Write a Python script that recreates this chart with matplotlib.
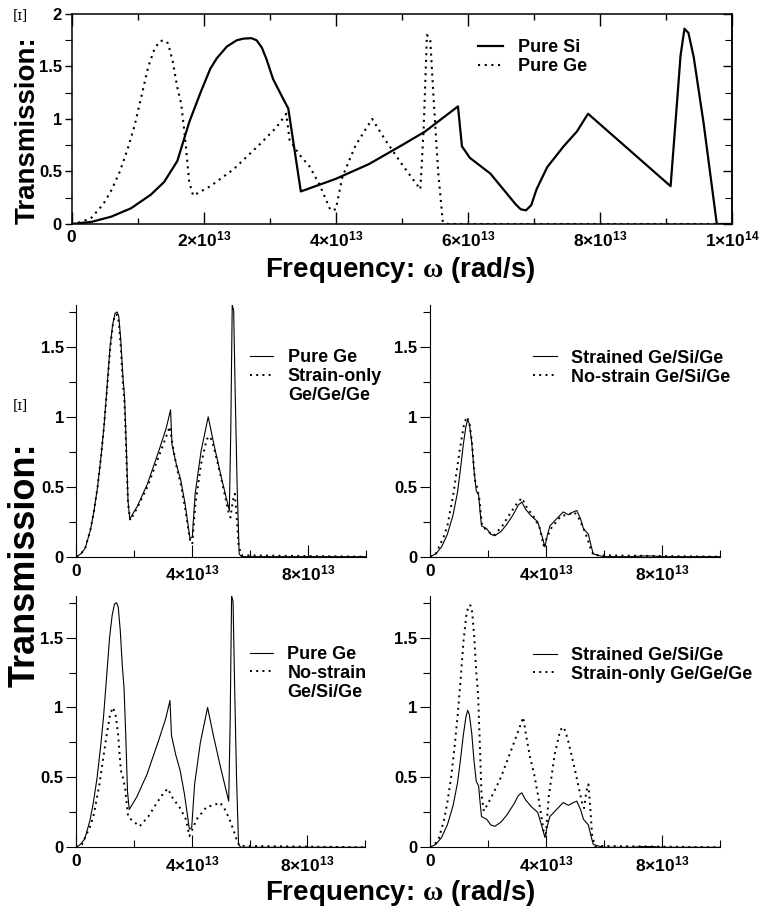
import numpy as np
import matplotlib
matplotlib.use('Agg')
import matplotlib.pyplot as plt
from matplotlib.ticker import MultipleLocator

plt.rcParams['font.family'] = ['Liberation Sans', 'DejaVu Sans']
plt.rcParams['font.weight'] = 'bold'
plt.rcParams['mathtext.fontset'] = 'custom'
plt.rcParams['mathtext.bf'] = 'Liberation Sans:bold'
plt.rcParams['mathtext.rm'] = 'Liberation Serif'

# frequencies in units of 1e13 rad/s
f_si = [0, 0.3, 0.6, 0.9, 1.2, 1.4, 1.6, 1.78, 1.95, 2.1, 2.2, 2.35, 2.5, 2.6,
        2.72, 2.8, 2.88, 2.95, 3.05, 3.18, 3.28, 3.47, 4.0, 4.5, 5.0, 5.35, 5.6,
        5.85, 5.91, 6.03, 6.34, 6.59, 6.72, 6.8, 6.88, 6.96, 7.04, 7.2, 7.45, 7.65,
        7.82, 9.07, 9.17, 9.22, 9.28, 9.34, 9.42, 9.57, 9.77, 10.0]
t_si = [0, 0.02, 0.07, 0.15, 0.28, 0.4, 0.6, 0.97, 1.25, 1.48, 1.58, 1.69, 1.75,
        1.765, 1.77, 1.75, 1.68, 1.57, 1.38, 1.22, 1.1, 0.31, 0.43, 0.57, 0.75,
        0.88, 1.0, 1.12, 0.74, 0.63, 0.48, 0.29, 0.19, 0.14, 0.13, 0.18, 0.33,
        0.54, 0.74, 0.88, 1.05, 0.36, 1.18, 1.6, 1.86, 1.82, 1.59, 0.96, 0.0, 0.0]

f_ge = [0, 0.15, 0.3, 0.48, 0.6, 0.73, 0.85, 0.95, 1.05, 1.16, 1.25, 1.33, 1.4,
        1.46, 1.53, 1.6, 1.66, 1.72, 1.78, 1.84, 2.1, 2.45, 2.85, 3.1, 3.25, 3.3,
        3.45, 3.6, 3.75, 3.92, 4.0, 4.1, 4.3, 4.55, 4.75, 5.0, 5.28, 5.33, 5.38,
        5.43, 5.48, 5.55, 5.62, 5.7, 10.0]
t_ge = [0, 0.02, 0.06, 0.19, 0.32, 0.5, 0.72, 0.93, 1.2, 1.5, 1.66, 1.74, 1.75,
        1.72, 1.55, 1.3, 1.14, 0.8, 0.4, 0.27, 0.36, 0.52, 0.76, 0.92, 1.05, 0.8,
        0.66, 0.55, 0.38, 0.13, 0.14, 0.45, 0.75, 1.0, 0.8, 0.57, 0.33, 0.9, 1.8,
        1.76, 1.2, 0.5, 0.02, 0.0, 0.0]

f_so = [0, 0.15, 0.3, 0.48, 0.6, 0.73, 0.85, 0.95, 1.05, 1.16, 1.25, 1.33, 1.4,
        1.46, 1.53, 1.6, 1.66, 1.72, 1.78, 1.86, 2.1, 2.45, 2.85, 3.1, 3.22, 3.32,
        3.45, 3.6, 3.75, 3.92, 4.0, 4.1, 4.3, 4.5, 4.62, 4.75, 5.0, 5.25, 5.32,
        5.4, 5.47, 5.53, 5.6, 5.7, 10.0]
t_so = [0, 0.02, 0.06, 0.19, 0.32, 0.5, 0.72, 0.93, 1.18, 1.48, 1.65, 1.73, 1.73,
        1.68, 1.5, 1.25, 1.1, 0.75, 0.38, 0.26, 0.35, 0.5, 0.72, 0.86, 0.93, 0.8,
        0.65, 0.52, 0.35, 0.12, 0.09, 0.36, 0.66, 0.84, 0.86, 0.78, 0.56, 0.32,
        0.28, 0.4, 0.45, 0.3, 0.08, 0.01, 0.0]

f_gsg = [0, 0.2, 0.4, 0.6, 0.8, 0.95, 1.05, 1.15, 1.24, 1.3, 1.36, 1.44, 1.52,
         1.6, 1.68, 1.74, 1.78, 1.96, 2.1, 2.24, 2.45, 2.65, 2.9, 3.05, 3.17, 3.3,
         3.5, 3.72, 3.85, 3.97, 4.05, 4.14, 4.37, 4.6, 4.78, 4.95, 5.07, 5.2, 5.3,
         5.47, 5.56, 5.64, 5.8, 6.0, 7.0, 7.3, 7.7, 8.0, 10.0]
t_gsg = [0, 0.02, 0.07, 0.16, 0.3, 0.46, 0.62, 0.8, 0.93, 0.98, 0.95, 0.82, 0.62,
         0.47, 0.44, 0.3, 0.22, 0.2, 0.16, 0.15, 0.18, 0.23, 0.31, 0.37, 0.39,
         0.34, 0.29, 0.25, 0.16, 0.07, 0.15, 0.22, 0.27, 0.32, 0.3, 0.32, 0.33,
         0.27, 0.2, 0.16, 0.08, 0.02, 0.01, 0.0, 0.0, 0.005, 0.005, 0.0, 0.0]

f_ns = [0, 0.2, 0.47, 0.6, 0.81, 1.04, 1.18, 1.27, 1.36, 1.45, 1.55, 1.62, 1.7,
        1.8, 1.95, 2.2, 2.5, 2.77, 3.0, 3.17, 3.35, 3.6, 3.8, 3.92, 4.05, 4.17,
        4.52, 4.75, 4.98, 5.15, 5.31, 5.45, 5.56, 5.65, 5.8, 10.0]
t_ns = [0, 0.02, 0.14, 0.22, 0.45, 0.78, 0.95, 1.0, 0.96, 0.82, 0.55, 0.5, 0.42,
        0.22, 0.19, 0.15, 0.22, 0.31, 0.38, 0.42, 0.35, 0.28, 0.2, 0.08, 0.14,
        0.2, 0.29, 0.3, 0.32, 0.27, 0.2, 0.12, 0.05, 0.01, 0.01, 0.0]

top_xticks = [0, 2, 4, 6, 8, 10]
top_xlabels = ['0', r'$\mathbf{2{\times}10^{13}}$', r'$\mathbf{4{\times}10^{13}}$',
               r'$\mathbf{6{\times}10^{13}}$', r'$\mathbf{8{\times}10^{13}}$',
               r'$\mathbf{1{\times}10^{14}}$']
top_yticks = [0, 0.5, 1, 1.5, 2]
top_ylabels = ['0', '0.5', '1', '1.5', '2']
sub_xticks = [0, 4, 8]
sub_xlabels = ['0', r'$\mathbf{4{\times}10^{13}}$', r'$\mathbf{8{\times}10^{13}}$']
sub_yticks = [0, 0.5, 1, 1.5]
sub_ylabels = ['0', '0.5', '1', '1.5']

SCALE = 1e13
DOT = (0, (1, 2.2))

fig = plt.figure(figsize=(7.61, 9.15), dpi=100)

# ---- top panel
ax = fig.add_axes([0.0942, 0.7552, 0.8677, 0.2295])
ax.plot(np.array(f_si) * SCALE, t_si, color='k', lw=1.6, label='Pure Si')
ax.plot(np.array(f_ge) * SCALE, t_ge, color='k', lw=1.5, ls=DOT, label='Pure Ge')
ax.set_xlim(0, 1e14)
ax.set_ylim(0, 2)
ax.set_xticks(np.array(top_xticks) * SCALE)
ax.set_xticklabels(top_xlabels)
ax.xaxis.set_minor_locator(MultipleLocator(1e13))
ax.set_yticks(top_yticks)
ax.set_yticklabels(top_ylabels)
ax.yaxis.set_minor_locator(MultipleLocator(0.25))
ax.tick_params(axis='x', which='both', direction='in', top=True, labelsize=12.5, pad=4)
ax.tick_params(axis='x', which='major', length=8.5, width=1)
ax.tick_params(axis='x', which='minor', length=4.5, width=1)
ax.tick_params(axis='y', which='both', direction='out', labelsize=12, pad=2)
ax.tick_params(axis='y', which='major', length=5, width=1)
ax.tick_params(axis='y', which='minor', length=5, width=0.8)
for s in ax.spines.values():
    s.set_linewidth(1.1)
ax_r = ax.secondary_yaxis('right')
ax_r.set_yticks(top_yticks)
ax_r.yaxis.set_minor_locator(MultipleLocator(0.25))
ax_r.tick_params(which='both', direction='in', labelright=False)
ax_r.tick_params(which='major', length=6.5, width=1)
ax_r.tick_params(which='minor', length=5, width=0.8)
ax_r.spines['right'].set_linewidth(1.1)
ax.legend(loc='upper left', bbox_to_anchor=(0.615, 0.88), frameon=False,
          fontsize=13, handlelength=1.4, handletextpad=0.8, labelspacing=0.1,
          borderpad=0, borderaxespad=0)
fig.text(0.036, 0.858, 'Transmission:', rotation=90, fontsize=20,
         ha='center', va='center')
fig.text(0.526, 0.705, r'Frequency: $\mathrm{\omega}$ (rad/s)', fontsize=20,
         ha='center', va='center')
fig.text(0.027, 0.983, '[ɪ]', family='DejaVu Serif', fontsize=10,
         weight='normal', ha='center', va='center')

# ---- four sub panels
panels = [
    ([0.1005, 0.3916, 0.3804, 0.2751],
     [(f_ge, t_ge, '-', 'Pure Ge'), (f_so, t_so, DOT, 'Strain-only')],
     ['Ge/Ge/Ge'], (0.599, 0.825)),
    ([0.565, 0.3916, 0.3806, 0.2751],
     [(f_gsg, t_gsg, '-', 'Strained Ge/Si/Ge'), (f_ns, t_ns, DOT, 'No-strain Ge/Si/Ge')],
     [], (0.356, 0.822)),
    ([0.0999, 0.0740, 0.3800, 0.2750],
     [(f_ge, t_ge, '-', 'Pure Ge'), (f_ns, t_ns, DOT, 'No-strain')],
     ['Ge/Si/Ge'], (0.6, 0.80)),
    ([0.565, 0.0740, 0.3806, 0.2750],
     [(f_gsg, t_gsg, '-', 'Strained Ge/Si/Ge'), (f_so, t_so, DOT, 'Strain-only Ge/Ge/Ge')],
     [], (0.356, 0.796)),
]

for rect, series, extra, anchor in panels:
    a = fig.add_axes(rect)
    for f, t, ls, lab in series:
        lw = 0.8 if ls == '-' else 1.4
        a.plot(np.array(f) * SCALE, t, color='k', lw=lw, ls=ls, label=lab)
    for lab in extra:
        a.plot([], [], ls='none', label=lab)
    a.set_xlim(0, 1e14)
    a.set_ylim(0, 1.8)
    a.spines['top'].set_visible(False)
    a.spines['right'].set_visible(False)
    for s in ['left', 'bottom']:
        a.spines[s].set_linewidth(0.8)
    a.set_xticks(np.array(sub_xticks) * SCALE)
    a.set_xticklabels(sub_xlabels)
    a.set_xticks(np.array([2, 6, 10]) * SCALE, minor=True)
    a.set_yticks(sub_yticks)
    a.set_yticklabels(sub_ylabels)
    a.set_yticks([0.25, 0.75, 1.25, 1.75], minor=True)
    a.tick_params(axis='x', which='both', direction='in', labelsize=12.5, pad=5)
    a.tick_params(axis='x', which='major', length=9, width=0.8)
    a.tick_params(axis='x', which='minor', length=5, width=0.8)
    a.tick_params(axis='y', which='both', direction='out', labelsize=12, pad=2)
    a.tick_params(axis='y', which='major', length=7, width=0.8)
    a.tick_params(axis='y', which='minor', length=5, width=0.8)
    a.legend(loc='upper left', bbox_to_anchor=anchor, frameon=False,
             fontsize=13, handlelength=1.3, handletextpad=0.8, labelspacing=0.1,
             borderpad=0, borderaxespad=0)

fig.text(0.033, 0.383, 'Transmission:', rotation=90, fontsize=26,
         ha='center', va='center')
fig.text(0.526, 0.024, r'Frequency: $\mathrm{\omega}$ (rad/s)', fontsize=20,
         ha='center', va='center')
fig.text(0.027, 0.557, '[ɪ]', family='DejaVu Serif', fontsize=10,
         weight='normal', ha='center', va='center')

fig.savefig('out.png', dpi=100)
